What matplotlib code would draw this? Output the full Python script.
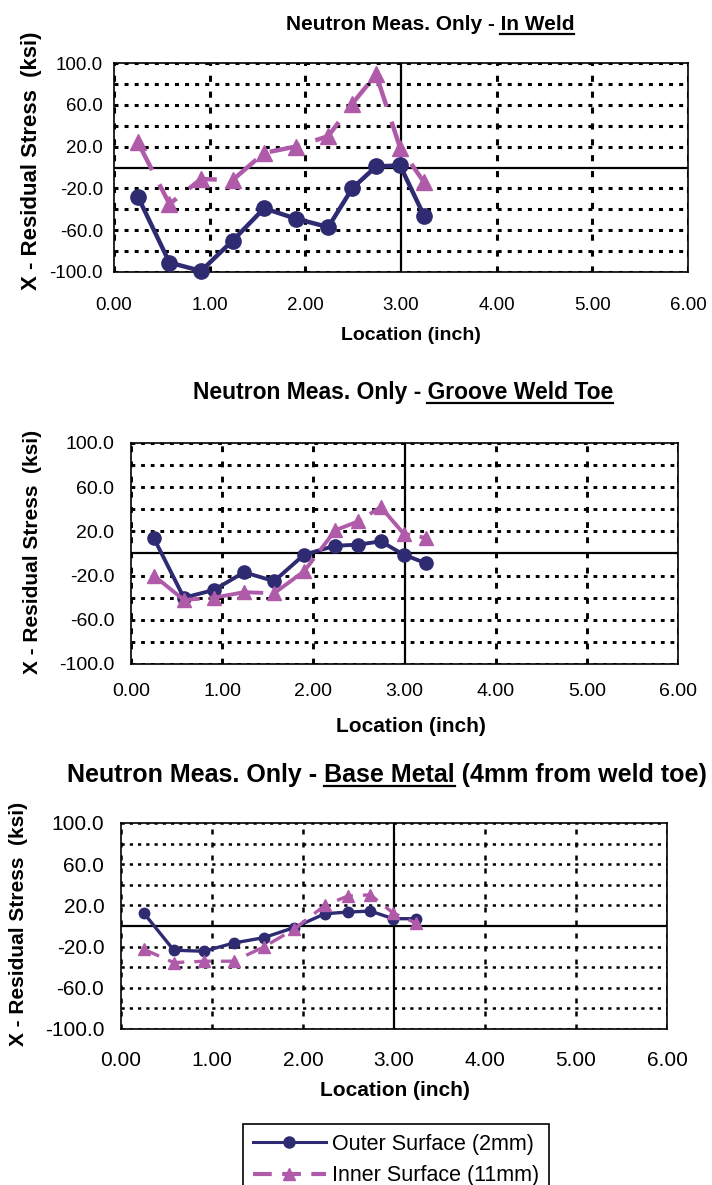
import matplotlib
matplotlib.use("Agg")
import matplotlib.pyplot as plt
from matplotlib import font_manager
from matplotlib.lines import Line2D

W, H, DPI = 712, 1185, 100

_fonts = {f.name for f in font_manager.fontManager.ttflist}
SANS = "Liberation Sans" if "Liberation Sans" in _fonts else "DejaVu Sans"
NARROW = "Liberation Sans Narrow" if "Liberation Sans Narrow" in _fonts else SANS

# ---- data -------------------------------------------------------------
location = [0.25, 0.58, 0.91, 1.24, 1.57, 1.90, 2.24, 2.49, 2.74, 2.99, 3.24]

weld_outer = [-28.0, -91.0, -99.0, -70.0, -39.0, -49.0, -57.0, -20.0, 1.0, 2.0, -46.0]
weld_inner = [24.0, -35.0, -11.0, -12.0, 14.0, 20.0, 30.0, 61.0, 89.0, 19.0, -14.0]

groove_outer = [14.0, -40.0, -33.0, -17.0, -25.0, -1.0, 7.0, 8.0, 11.0, -1.0, -9.0]
groove_inner = [-20.0, -42.0, -40.0, -35.0, -36.0, -16.0, 21.0, 29.0, 42.0, 18.0, 14.0]

base_outer = [12.6, -23.5, -24.5, -16.5, -11.3, -1.6, 11.9, 13.5, 14.5, 7.1, 7.1]
base_inner = [-22.6, -35.5, -34.2, -34.2, -20.3, -3.2, 20.0, 29.0, 30.3, 12.6, 2.9]

y_ticks = [100, 60, 20, -20, -60, -100]
x_ticks = [0, 1, 2, 3, 4, 5, 6]
series_labels = ["Outer Surface (2mm)", "Inner Surface (11mm)"]
y_label = "X - Residual Stress  (ksi)"
x_label = "Location (inch)"
title_lead = "Neutron Meas. Only - "
titles = [("In Weld", ""), ("Groove Weld Toe", ""), ("Base Metal", " (4mm from weld toe)")]

OUTER = "#2E2B72"
INNER = "#B05BAA"

fig = plt.figure(figsize=(W / DPI, H / DPI), dpi=DPI)
renderer = fig.canvas.get_renderer()


def fx(px):
    return px / W


def fy(py):
    return 1 - py / H


def text_width(s, size, family):
    t = fig.text(0, 0, s, fontsize=size, fontweight="bold", family=family)
    w = t.get_window_extent(renderer).width
    t.remove()
    return w


def draw_title(underlined, tail, cx, baseline, size, family, ul_gap):
    full = title_lead + underlined + tail
    total = text_width(full, size, family)
    x0 = cx - total / 2
    fig.text(fx(x0), fy(baseline), full, fontsize=size, fontweight="bold",
             family=family, ha="left", va="baseline")
    bar = text_width("|", size, family)
    start = x0 + text_width(title_lead + "|", size, family) - bar
    end = x0 + text_width(title_lead + underlined + "|", size, family) - bar
    fig.add_artist(Line2D([fx(start), fx(end)], [fy(baseline + ul_gap)] * 2,
                          color="black", lw=1.6))


panels = [
    dict(box=(114, 63, 688, 272), outer=weld_outer, inner=weld_inner, family=NARROW,
         tick=13.5, ypad=8, xpad=18, title=titles[0], tcx=430, tbase=30, tsize=15,
         ylab=(32, 161), ylsize=16, xlab=(411, 335), xlsize=14, lw=3.2, ms_o=11, ms_i=12,
         dash=(7.0, 3.6), glw=2.2),
    dict(box=(131, 443, 678, 664), outer=groove_outer, inner=groove_inner, family=SANS,
         tick=14, ypad=12, xpad=14, title=titles[1], tcx=403, tbase=399, tsize=16.5,
         ylab=(33, 552), ylsize=15, xlab=(411, 727), xlsize=15, lw=2.8, ms_o=9.5, ms_i=10.5,
         dash=(14.0, 2.5), glw=2.1),
    dict(box=(121, 823, 667, 1029), outer=base_outer, inner=base_inner, family=SANS,
         tick=15, ypad=12, xpad=16, title=titles[2], tcx=387, tbase=782, tsize=18,
         ylab=(19, 924), ylsize=15, xlab=(395, 1090), xlsize=15, lw=2.4, ms_o=7.5, ms_i=9,
         dash=(5.0, 3.0), glw=1.8),
]

for p in panels:
    left, top, right, bottom = p["box"]
    ax = fig.add_axes([fx(left), fy(bottom), (right - left) / W, (bottom - top) / H])
    ax.set_xlim(0, 6)
    ax.set_ylim(-100, 100)

    for yv in range(-100, 101, 20):
        if yv != 0:
            ax.axhline(yv, color="black", lw=p["glw"], ls=(0, (1.3, 2.0)), zorder=1)
    for xv in x_ticks:
        if xv != 3:
            ax.axvline(xv, color="black", lw=p["glw"], ls=(0, (2.0, 3.2)), zorder=1)
    ax.axhline(0, color="black", lw=1.6, zorder=2)
    ax.axvline(3, color="black", lw=1.6, zorder=2)
    for s in ax.spines.values():
        s.set_linewidth(1.2)

    ax.plot(location, p["outer"], color=OUTER, lw=p["lw"], marker="o",
            ms=p["ms_o"], mec=OUTER, mfc=OUTER, zorder=4, clip_on=False)
    ax.plot(location, p["inner"], color=INNER, lw=p["lw"], ls=(0, p["dash"]),
            marker="^", ms=p["ms_i"], mec=INNER, mfc=INNER, zorder=5, clip_on=False)

    ax.set_yticks(y_ticks)
    ax.set_yticklabels([f"{v:.1f}" for v in y_ticks])
    ax.set_xticks(x_ticks)
    ax.set_xticklabels([f"{v:.2f}" for v in x_ticks])
    ax.tick_params(axis="both", length=0, labelsize=p["tick"])
    ax.tick_params(axis="y", pad=p["ypad"])
    ax.tick_params(axis="x", pad=p["xpad"])
    for lab in ax.get_xticklabels() + ax.get_yticklabels():
        lab.set_family(p["family"])

    fig.text(fx(p["ylab"][0]), fy(p["ylab"][1]), y_label, rotation=90, ha="center",
             va="center", fontsize=p["ylsize"], fontweight="bold", family=SANS)
    fig.text(fx(p["xlab"][0]), fy(p["xlab"][1]), x_label, ha="center", va="center",
             fontsize=p["xlsize"], fontweight="bold", family=p["family"])

    draw_title(p["title"][0], p["title"][1], p["tcx"], p["tbase"], p["tsize"],
               p["family"], 4)

leg_handles = [
    Line2D([], [], color=OUTER, lw=2.2, marker="o", ms=8, mec=OUTER),
    Line2D([], [], color=INNER, lw=3.0, ls=(0, (4.5, 2.5)), marker="^", ms=9, mec=INNER),
]
leg = fig.legend(leg_handles, series_labels, loc="upper left",
                 bbox_to_anchor=(fx(243), fy(1124)), bbox_transform=fig.transFigure,
                 frameon=True, fancybox=False, edgecolor="black", framealpha=1,
                 borderaxespad=0, borderpad=0.45, handlelength=3.4, handletextpad=0.3,
                 labelspacing=0.5, prop={"family": SANS, "size": 15.5})
leg.get_frame().set_linewidth(1.2)

fig.savefig("out.png", dpi=DPI)
